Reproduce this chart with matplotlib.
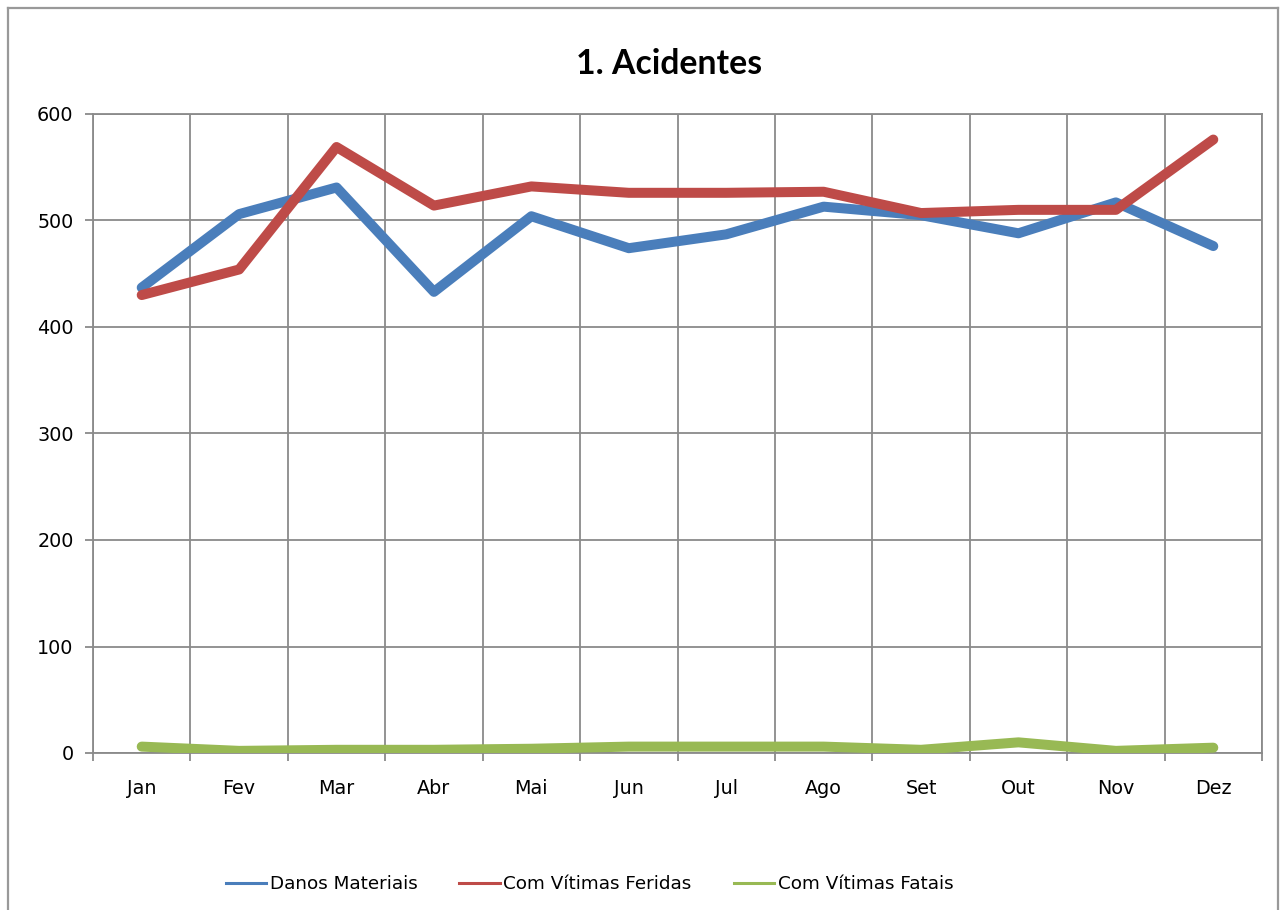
import matplotlib
matplotlib.use("Agg")
import matplotlib.pyplot as plt
from matplotlib.lines import Line2D
import numpy as np

months = ["Jan", "Fev", "Mar", "Abr", "Mai", "Jun", "Jul", "Ago", "Set", "Out", "Nov", "Dez"]
danos_materiais = [437, 506, 531, 433, 504, 474, 487, 513, 505, 488, 517, 476]
vitimas_feridas = [430, 454, 569, 514, 532, 526, 526, 527, 507, 510, 510, 576]
vitimas_fatais = [6, 2, 3, 3, 4, 6, 6, 6, 3, 10, 2, 5]
series_names = ["Danos Materiais", "Com Vítimas Feridas", "Com Vítimas Fatais"]
y_ticks = [0, 100, 200, 300, 400, 500, 600]

colors = ["#4a7ebb", "#be4b48", "#98b954"]
grid_c = "#8a8a8a"

W, H = 1280, 910
fig = plt.figure(figsize=(W / 100, H / 100), dpi=100)
plt.rcParams['font.family'] = ['DejaVu Sans']

L, R, T, B = 93, 1262, 114, 753
ax = fig.add_axes([L / W, 1 - B / H, (R - L) / W, (B - T) / H])

x = np.arange(len(months))
for vals, c, name in zip([danos_materiais, vitimas_feridas, vitimas_fatais], colors, series_names):
    ax.plot(x, vals, color=c, lw=7.2, solid_capstyle='round', solid_joinstyle='round',
            label=name, zorder=3)

ax.set_xlim(-0.5, len(months) - 0.5)
ax.set_ylim(0, 600)
ax.set_yticks(y_ticks)
ax.set_yticklabels([str(v) for v in y_ticks], fontsize=13.8)
ax.set_xticks(np.arange(-0.5, len(months), 1.0))
ax.set_xticklabels([])
ax.set_xticks(x, minor=True)
ax.set_xticklabels(months, minor=True, fontsize=13.8)
ax.tick_params(axis='x', which='major', length=6, width=1.3, color=grid_c, direction='out')
ax.tick_params(axis='x', which='minor', length=0, pad=19)
ax.tick_params(axis='y', which='major', length=6, width=1.3, color=grid_c, direction='out', pad=8)
ax.grid(True, which='major', color=grid_c, lw=1.3, zorder=0)
for s in ax.spines.values():
    s.set_color(grid_c)
    s.set_linewidth(1.3)
ax.set_axisbelow(True)

fig.text(669.5 / W, 1 - 64.5 / H, "1. Acidentes", ha='center', va='center',
         fontsize=24.3, fontweight='bold', family=['Lato', 'DejaVu Sans'])

handles = [Line2D([0], [0], color=c, lw=2.2) for c in colors]
fig.legend(handles, series_names, loc='center', bbox_to_anchor=(589.5 / W, 1 - 884 / H),
           ncol=3, frameon=False, fontsize=13.2, handlelength=2.2, handletextpad=0.2,
           columnspacing=2.3)

bc = "#999999"
fig.add_artist(Line2D([8 / W, 8 / W], [0, 1 - 8 / H], transform=fig.transFigure, color=bc, lw=1.6))
fig.add_artist(Line2D([8 / W, 1278 / W], [1 - 8 / H, 1 - 8 / H], transform=fig.transFigure, color=bc, lw=1.6))
fig.add_artist(Line2D([1278 / W, 1278 / W], [0, 1 - 8 / H], transform=fig.transFigure, color=bc, lw=1.6))

fig.savefig("out.png", dpi=100)
